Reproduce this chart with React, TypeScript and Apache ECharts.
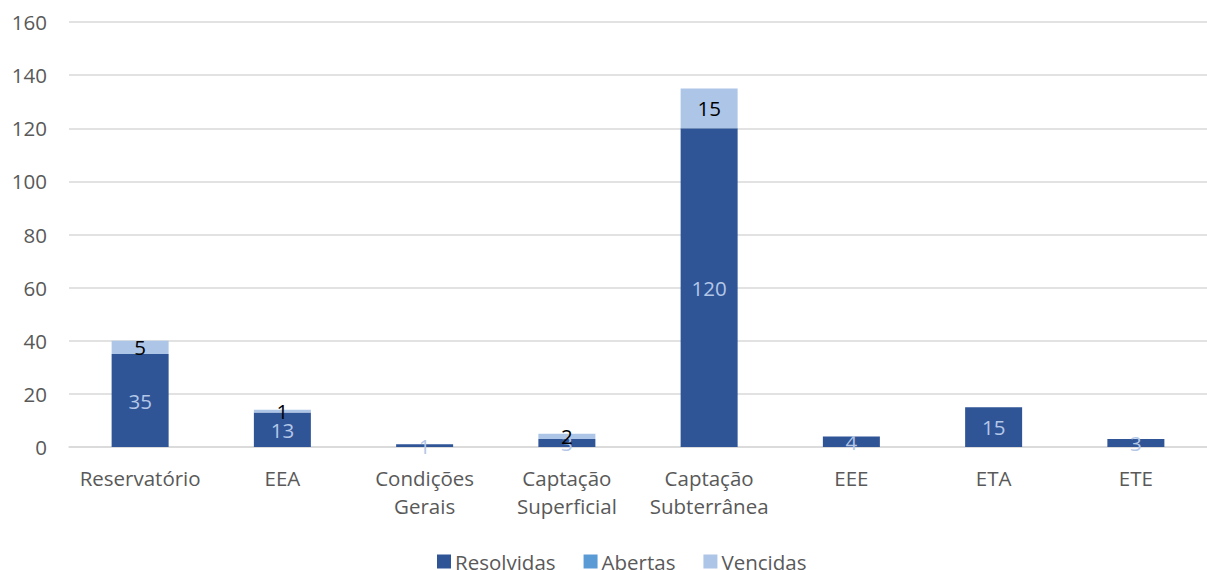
import React, { useEffect, useRef } from "react";
import * as echarts from "echarts";

const categories = [
  "Reservatório",
  "EEA",
  "Condições\nGerais",
  "Captação\nSuperficial",
  "Captação\nSubterrânea",
  "EEE",
  "ETA",
  "ETE",
];
const resolvidas = [35, 13, 1, 3, 120, 4, 15, 3];
const abertas = [0, 0, 0, 0, 0, 0, 0, 0];
const vencidas = [5, 1, 0, 2, 15, 0, 0, 0];
const yTicks = { min: 0, max: 160, interval: 20 };

const FONT = "'Open Sans', Lato, sans-serif";
const FS = 20.5;

export default function App() {
  const ref = useRef<HTMLDivElement>(null);
  useEffect(() => {
    document.body.style.margin = "0";
    const chart = echarts.init(ref.current!, null, { renderer: "svg" });
    const hideZero = (p: any) => (p.value ? String(p.value) : "");
    chart.setOption({
      animation: false,
      textStyle: { fontFamily: FONT },
      grid: { left: 69, width: 1142, top: 22, height: 425 },
      legend: {
        left: 437,
        top: 551,
        padding: 0,
        itemWidth: 14,
        itemHeight: 14,
        itemGap: 28,
        icon: "rect",
        textStyle: {
          color: "#595959",
          fontSize: FS,
          fontFamily: FONT,
          lineHeight: 20,
          padding: [0, 0, 0, -1],
        },
        data: ["Resolvidas", "Abertas", "Vencidas"],
      },
      xAxis: {
        type: "category",
        data: categories,
        axisLine: { lineStyle: { color: "#D9D9D9", width: 1.5 } },
        axisTick: { show: false },
        axisLabel: {
          color: "#595959",
          fontSize: FS,
          fontFamily: FONT,
          margin: 17,
          lineHeight: 28,
          interval: 0,
        },
      },
      yAxis: {
        type: "value",
        min: yTicks.min,
        max: yTicks.max,
        interval: yTicks.interval,
        axisLine: { show: false },
        axisTick: { show: false },
        splitLine: { lineStyle: { color: "#D9D9D9", width: 1.5 } },
        axisLabel: { color: "#595959", fontSize: FS, fontFamily: FONT, margin: 22 },
      },
      series: [
        {
          name: "Resolvidas",
          type: "bar",
          stack: "total",
          barWidth: 57,
          data: resolvidas,
          itemStyle: { color: "#2F5597" },
          label: {
            show: true,
            position: "inside",
            color: "#B4C7E7",
            fontSize: FS,
            fontFamily: FONT,
            formatter: hideZero,
          },
        },
        {
          name: "Abertas",
          type: "bar",
          stack: "total",
          barWidth: 57,
          data: abertas,
          itemStyle: { color: "#5B9BD5" },
          label: {
            show: true,
            position: "inside",
            color: "#000000",
            fontSize: FS,
            fontFamily: FONT,
            formatter: hideZero,
          },
        },
        {
          name: "Vencidas",
          type: "bar",
          stack: "total",
          barWidth: 57,
          data: vencidas,
          itemStyle: { color: "#ADC5E7" },
          label: {
            show: true,
            position: "inside",
            color: "#000000",
            fontSize: FS,
            fontFamily: FONT,
            formatter: hideZero,
          },
        },
      ],
    });
    return () => chart.dispose();
  }, []);
  return <div ref={ref} style={{ width: 1207, height: 570 }} />;
}
